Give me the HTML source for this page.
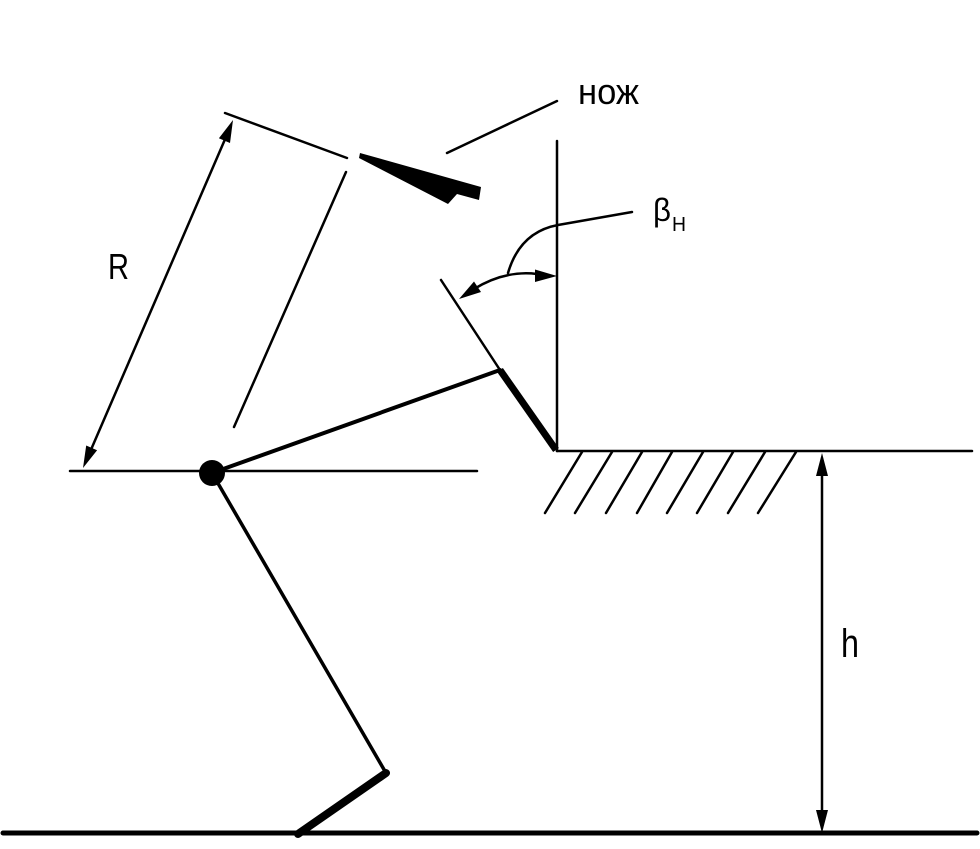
<!DOCTYPE html>
<html>
<head>
<meta charset="utf-8">
<style>
html,body{margin:0;padding:0;background:#fff;}
svg{display:block;}
text{font-family:"Liberation Sans","DejaVu Sans",sans-serif;fill:#000;}
</style>
</head>
<body>
<svg width="980" height="849" viewBox="0 0 980 849" xmlns="http://www.w3.org/2000/svg">
  <rect width="980" height="849" fill="#fff"/>
  <g stroke="#000" fill="none" stroke-linecap="round" stroke-linejoin="round">
    <!-- ground bottom -->
    <line x1="3" y1="833" x2="977" y2="833" stroke-width="5"/>
    <!-- upper ground -->
    <line x1="557" y1="451" x2="972" y2="451" stroke-width="2.5"/>
    <!-- hatches -->
    <line x1="545" y1="513" x2="582" y2="452" stroke-width="2.5"/>
    <line x1="575" y1="513" x2="612" y2="452" stroke-width="2.5"/>
    <line x1="606" y1="513" x2="642" y2="452" stroke-width="2.5"/>
    <line x1="637" y1="513" x2="672" y2="452" stroke-width="2.5"/>
    <line x1="667" y1="513" x2="703" y2="452" stroke-width="2.5"/>
    <line x1="697" y1="513" x2="733" y2="452" stroke-width="2.5"/>
    <line x1="728" y1="513" x2="765" y2="452" stroke-width="2.5"/>
    <line x1="758" y1="513" x2="796" y2="452" stroke-width="2.5"/>
    <!-- h dimension -->
    <line x1="822" y1="470" x2="822" y2="815" stroke-width="2.5"/>
    <!-- vertical line -->
    <line x1="557" y1="141" x2="557" y2="451" stroke-width="2.5"/>
    <!-- blade -->
    <line x1="500" y1="370" x2="556" y2="450" stroke-width="7" stroke-linecap="butt"/>
    <line x1="441" y1="280" x2="500" y2="370" stroke-width="2.5"/>
    <!-- arm -->
    <line x1="212" y1="473" x2="500" y2="370" stroke-width="4"/>
    <!-- horizontal at pivot -->
    <line x1="70" y1="471" x2="477" y2="471" stroke-width="2.5"/>
    <!-- leg -->
    <line x1="212" y1="473" x2="386" y2="773" stroke-width="3.5"/>
    <line x1="386" y1="773" x2="298" y2="834" stroke-width="8"/>
    <!-- R dimension -->
    <line x1="226" y1="137" x2="90" y2="452" stroke-width="2.5"/>
    <line x1="225" y1="113" x2="347" y2="158" stroke-width="2.5"/>
    <line x1="346" y1="172" x2="234" y2="427" stroke-width="2.5"/>
    <!-- leader to knife -->
    <line x1="447" y1="153" x2="557" y2="101" stroke-width="2.5"/>
    <!-- beta leader -->
    <path d="M508,273 Q520,232 558,225 L632,212" stroke-width="2.5"/>
    <!-- angle arc -->
    <path d="M474,289 Q505,270 537,274 L540,275" stroke-width="2.5"/>
  </g>
  <!-- pivot -->
  <circle cx="212" cy="473" r="13" fill="#000"/>
  <!-- arrowheads -->
  <g fill="#000" stroke="none">
    <polygon points="233,120 230,143 218.9,138.3"/>
    <polygon points="83,468 97.1,450.2 86.2,445.5"/>
    <polygon points="822,453 816,476 828,476"/>
    <polygon points="822,833 816,810 828,810"/>
    <polygon points="459,299 481,292 474,281.5"/>
    <polygon points="557,276 535,269.5 535,282"/>
    <!-- knife -->
    <polygon points="360,153 481,187 479,200 457,194 448,204 359,158"/>
  </g>
  <!-- labels -->
  <text x="578" y="104" font-size="36" textLength="61" lengthAdjust="spacingAndGlyphs">нож</text>
  <text x="108" y="279" font-size="36" textLength="21" lengthAdjust="spacingAndGlyphs">R</text>
  <text x="841" y="657" font-size="40" textLength="18" lengthAdjust="spacingAndGlyphs">h</text>
  <text x="653" y="221" font-size="32" textLength="18" lengthAdjust="spacingAndGlyphs">β</text>
  <text x="672" y="231" font-size="20" textLength="14" lengthAdjust="spacingAndGlyphs">H</text>
</svg>
</body>
</html>
